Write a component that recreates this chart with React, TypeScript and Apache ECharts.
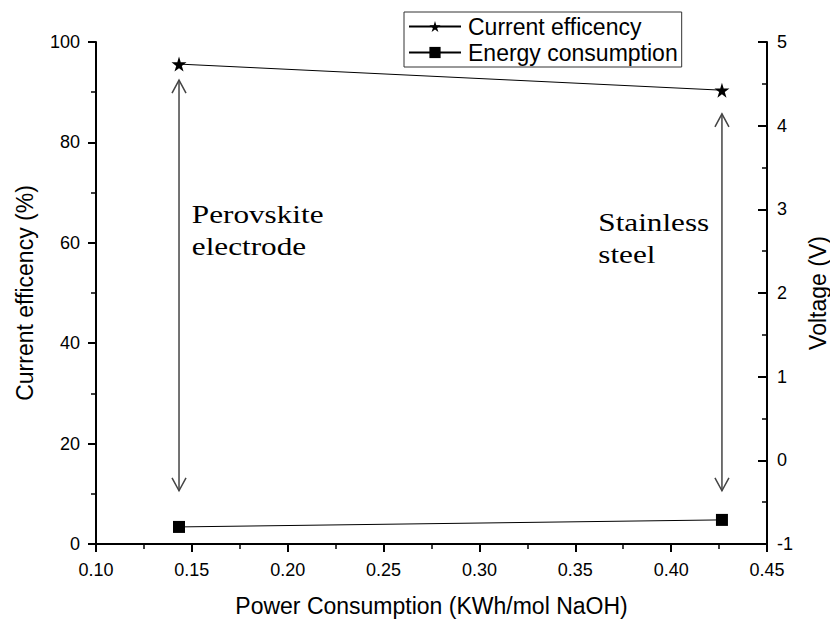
import React, { useEffect, useRef } from "react";
import * as echarts from "echarts";

const powerX = [0.1433, 0.4265];
const currentEff = [95.6, 90.4];
const energyCons = [3.4, 4.8];
const arrowData = [
  [0.1433, 92.4, 10.6],
  [0.4265, 85.7, 10.6],
];
const noteData = [
  [0.1500, 69.0],
  [0.3620, 67.4],
];
const noteTexts = ["Perovskite\nelectrode", "Stainless\nsteel"];

const STAR = "path://M50,0 L61,35 L98,35 L68,57 L79,91 L50,70 L21,91 L32,57 L2,35 L39,35 Z";
const SANS = "'Liberation Sans', Arial, sans-serif";

export default function App() {
  const ref = useRef<HTMLDivElement>(null);
  useEffect(() => {
    const chart = echarts.init(ref.current!, null, { renderer: "svg" });
    chart.setOption({
      animation: false,
      backgroundColor: "#fff",
      textStyle: { fontFamily: SANS },
      grid: { left: 96, right: 63, top: 42, bottom: 75, containLabel: false, outerBoundsMode: "none" },
      legend: {
        orient: "vertical",
        left: 404,
        top: 12,
        width: 280,
        data: ["Current efficency", "Energy consumption"],
        itemWidth: 52,
        itemHeight: 14,
        itemGap: 3,
        padding: [3, 4, 3, 4],
        borderColor: "#333",
        borderWidth: 1,
        textStyle: { fontSize: 23, color: "#000", fontFamily: SANS, padding: [0, 0, 0, 2] },
      },
      xAxis: {
        type: "value",
        min: 0.1,
        max: 0.45,
        interval: 0.05,
        name: "Power Consumption (KWh/mol NaOH)",
        nameLocation: "middle",
        nameGap: 50,
        nameTextStyle: { fontSize: 23, color: "#000", fontFamily: SANS },
        axisLine: { lineStyle: { color: "#000", width: 2 } },
        axisTick: { inside: false, length: 8, lineStyle: { color: "#000", width: 2 } },
        minorTick: { show: true, splitNumber: 2, length: 5, lineStyle: { color: "#000", width: 1.5 } },
        axisLabel: {
          fontSize: 18,
          color: "#000",
          margin: 17,
          formatter: (v: number) => v.toFixed(2),
        },
        splitLine: { show: false },
      },
      yAxis: [
        {
          type: "value",
          min: 0,
          max: 100,
          interval: 20,
          position: "left",
          name: "Current efficency (%)",
          nameLocation: "middle",
          nameGap: 60,
          nameTextStyle: { fontSize: 23, color: "#000", fontFamily: SANS },
          axisLine: { show: true, lineStyle: { color: "#000", width: 2 } },
          axisTick: { show: true, inside: false, length: 8, lineStyle: { color: "#000", width: 2 } },
          minorTick: { show: true, splitNumber: 2, length: 5, lineStyle: { color: "#000", width: 1.5 } },
          axisLabel: { fontSize: 18, color: "#000", margin: 16 },
          splitLine: { show: false },
        },
        {
          type: "value",
          min: -1,
          max: 5,
          interval: 1,
          position: "right",
          name: "Voltage (V)",
          nameLocation: "middle",
          nameGap: 39,
          nameTextStyle: { fontSize: 23, color: "#000", fontFamily: SANS },
          axisLine: { show: true, lineStyle: { color: "#000", width: 2 } },
          axisTick: { show: true, inside: true, length: 9, lineStyle: { color: "#000", width: 2 } },
          minorTick: { show: true, splitNumber: 2, length: 5, lineStyle: { color: "#000", width: 1.5 } },
          axisLabel: { fontSize: 18, color: "#000", margin: 10 },
          splitLine: { show: false },
        },
      ],
      series: [
        {
          name: "Current efficency",
          type: "line",
          data: powerX.map((x, i) => [x, currentEff[i]]),
          symbol: STAR,
          symbolSize: 15,
          lineStyle: { color: "#000", width: 1 },
          itemStyle: { color: "#000" },
        },
        {
          name: "Energy consumption",
          type: "line",
          data: powerX.map((x, i) => [x, energyCons[i]]),
          symbol: "rect",
          symbolSize: 12,
          lineStyle: { color: "#000", width: 1 },
          itemStyle: { color: "#000" },
        },
        {
          type: "custom",
          name: "arrows",
          data: arrowData,
          encode: { x: 0, y: [1, 2] },
          silent: true,
          renderItem: (params: any, api: any) => {
            const x = api.value(0);
            const p1 = api.coord([x, api.value(1)]);
            const p2 = api.coord([x, api.value(2)]);
            const st = { stroke: "#444", lineWidth: 1.5, fill: "none" };
            return {
              type: "group",
              children: [
                { type: "line", shape: { x1: p1[0], y1: p1[1], x2: p2[0], y2: p2[1] }, style: st },
                {
                  type: "polyline",
                  shape: { points: [[p1[0] - 7, p1[1] + 13], [p1[0], p1[1]], [p1[0] + 7, p1[1] + 13]] },
                  style: st,
                },
                {
                  type: "polyline",
                  shape: { points: [[p2[0] - 7, p2[1] - 13], [p2[0], p2[1]], [p2[0] + 7, p2[1] - 13]] },
                  style: st,
                },
              ],
            };
          },
        },
        {
          type: "custom",
          name: "notes",
          data: noteData,
          encode: { x: 0, y: 1 },
          silent: true,
          renderItem: (params: any, api: any) => {
            const p = api.coord([api.value(0), api.value(1)]);
            return {
              type: "text",
              x: p[0],
              y: p[1],
              scaleX: 1.2,
              style: {
                text: noteTexts[params.dataIndex],
                font: "26px 'Liberation Serif', 'Times New Roman', serif",
                fill: "#000",
                textAlign: "left",
                textVerticalAlign: "top",
                lineHeight: 32,
              },
            };
          },
        },
      ],
    });
    return () => chart.dispose();
  }, []);
  return (
    <div
      ref={ref}
      style={{ position: "fixed", left: 0, top: 0, width: 830, height: 619, background: "#fff" }}
    />
  );
}
